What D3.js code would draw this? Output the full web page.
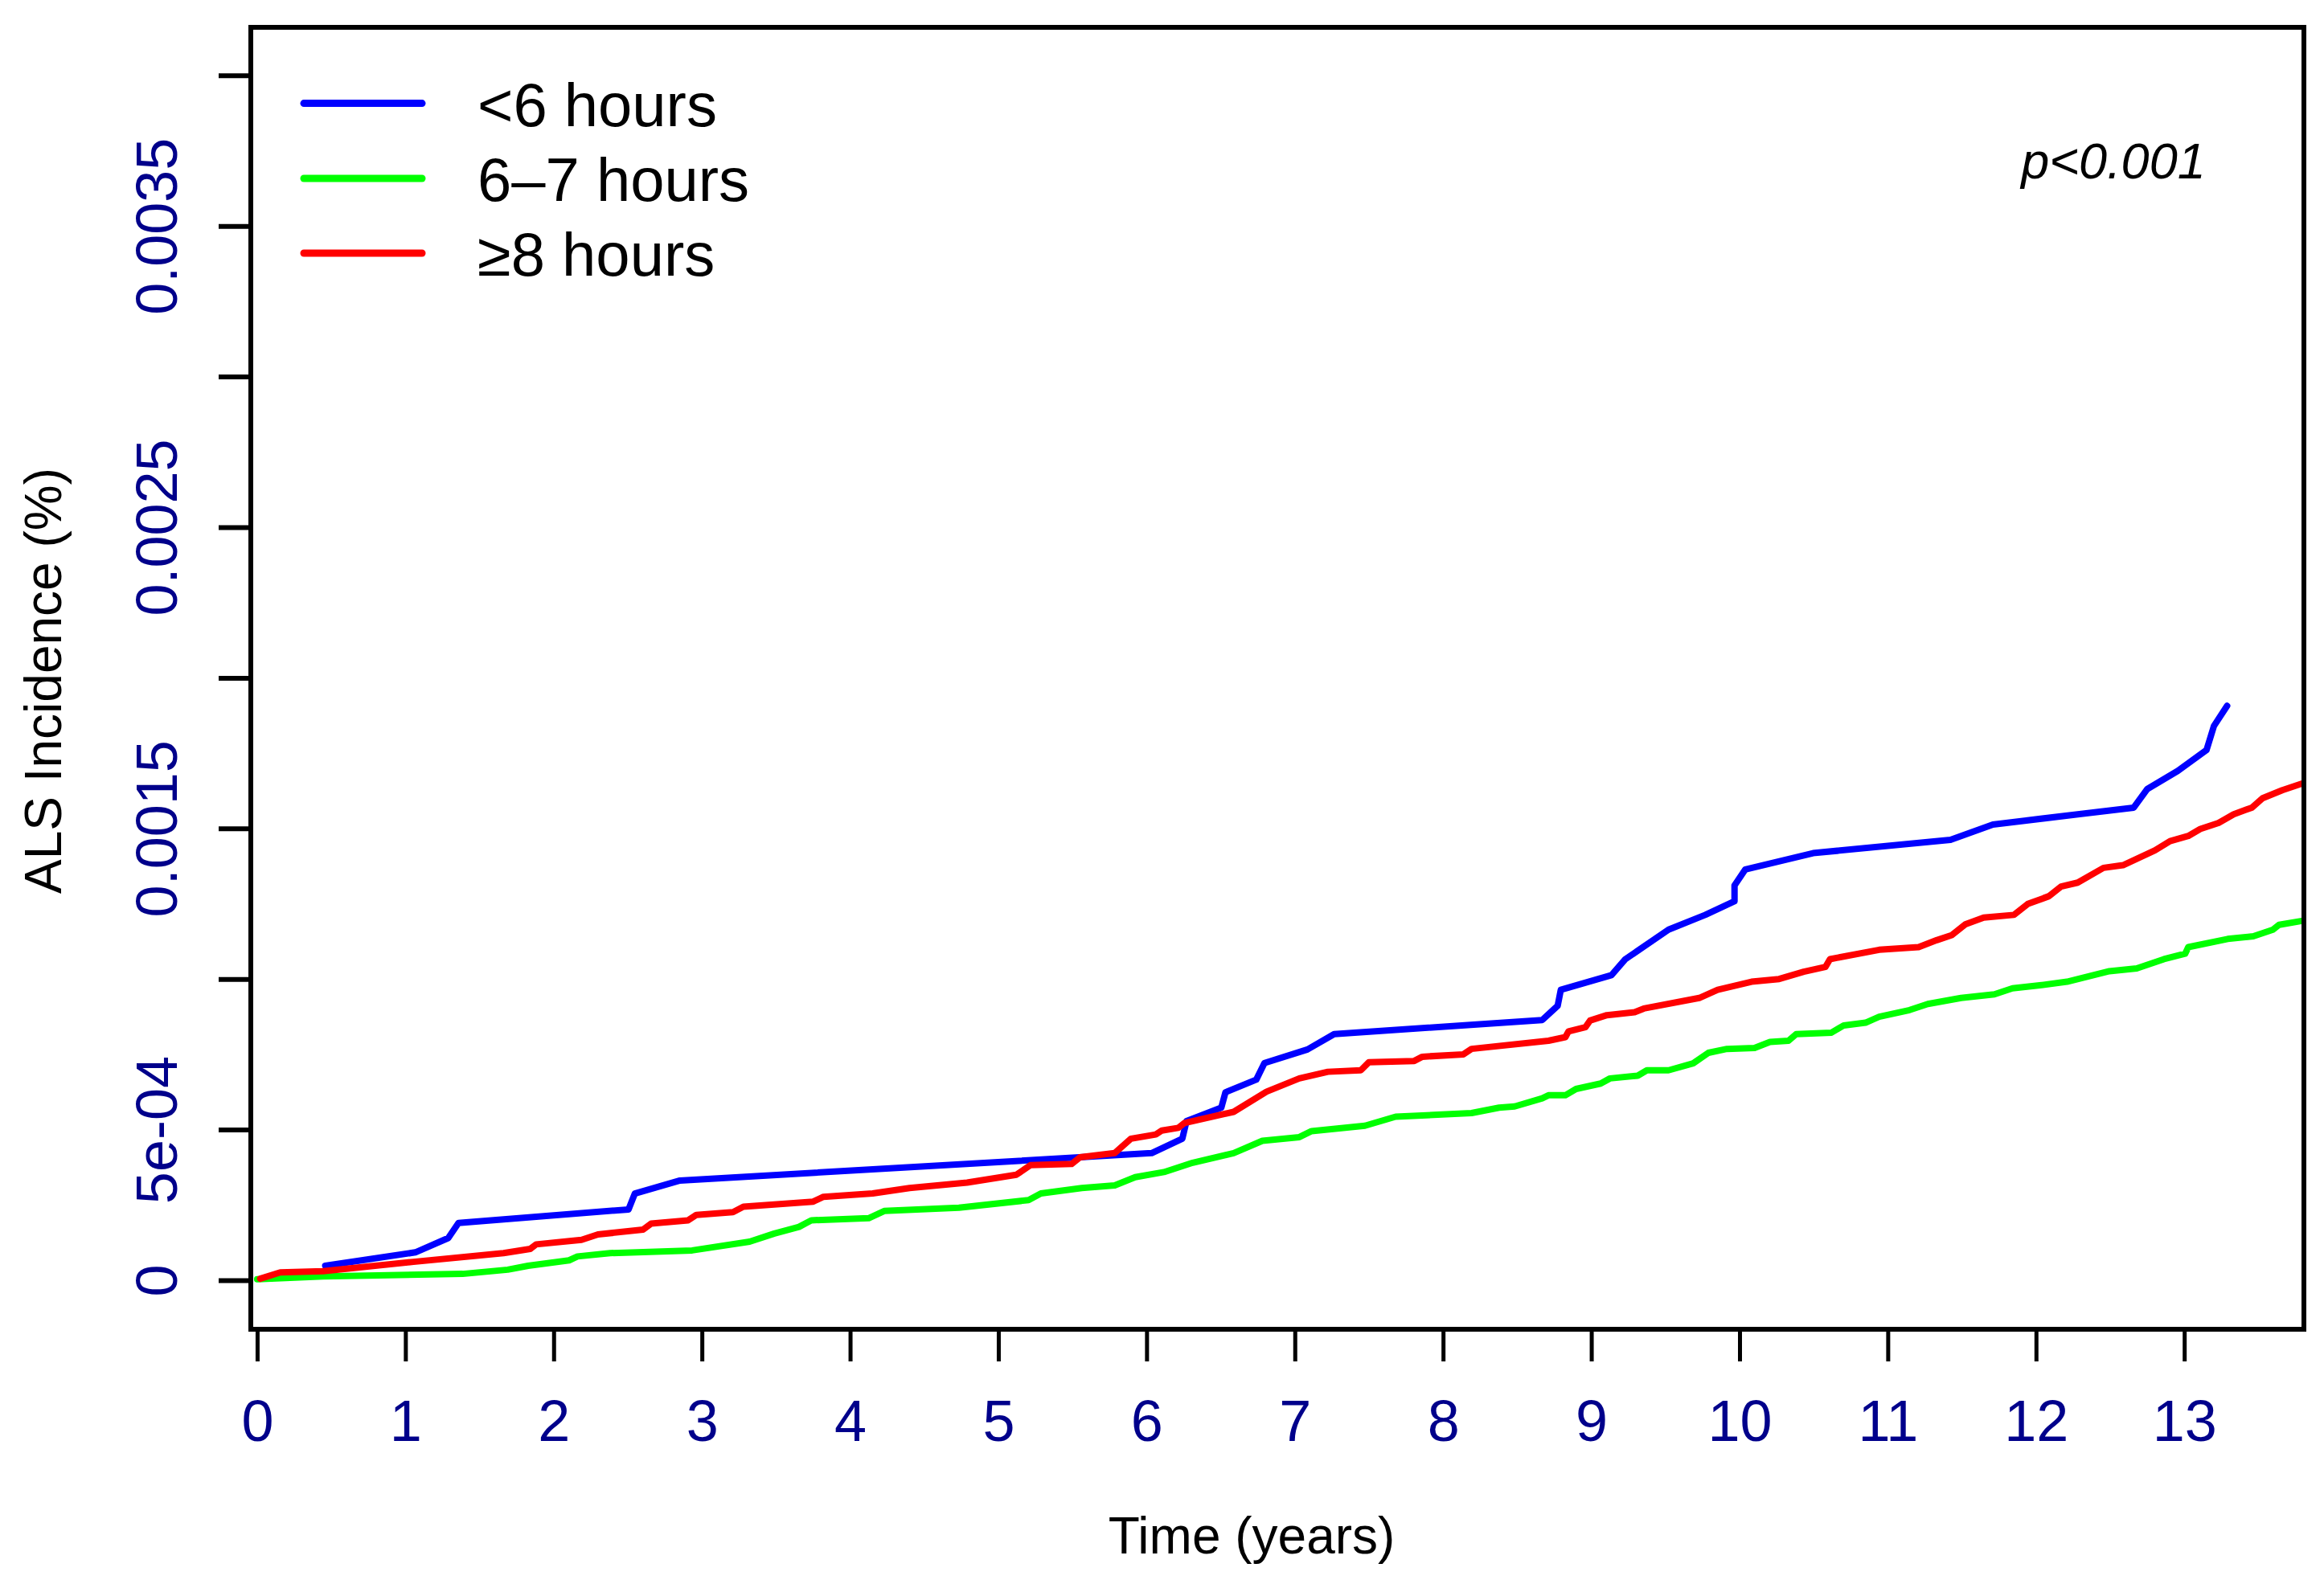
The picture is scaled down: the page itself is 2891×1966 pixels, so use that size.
<!DOCTYPE html>
<html>
<head>
<meta charset="utf-8">
<script src="https://d3js.org/d3.v7.min.js"></script>
<style>
    html, body { margin: 0; padding: 0; background: #fff; }
    svg { display: block; font-family: "Liberation Sans", Arial, sans-serif; }
</style>
</head>
<body>
<div id="chart"></div>
<script>
// Cumulative ALS incidence, [time in years, incidence]
const shortSleep = [
    [0.459, 0.000048], [1.067, 0.0000925], [1.289, 0.00014], [1.358, 0.00019],
    [2.505, 0.000235], [2.548, 0.000288], [2.852, 0.000331], [6.034, 0.000422],
    [6.241, 0.00047], [6.269, 0.000528], [6.504, 0.000573], [6.532, 0.000624],
    [6.74, 0.000666], [6.795, 0.000721], [7.085, 0.000766], [7.265, 0.000817],
    [8.669, 0.000864], [8.773, 0.000911], [8.794, 0.000964], [9.136, 0.001013],
    [9.23, 0.001066], [9.521, 0.001164], [9.769, 0.001213], [9.966, 0.001258],
    [9.966, 0.001311], [10.039, 0.001364], [10.496, 0.001418], [11.423, 0.001462],
    [11.709, 0.001513], [12.659, 0.001569], [12.751, 0.001631], [12.956, 0.001691],
    [13.15, 0.00176], [13.2, 0.00184], [13.289, 0.001907]
];

const midSleep = [
    [0, 0.000003], [0.445, 0.0000125], [1.386, 0.000021], [1.69, 0.000035],
    [1.828, 0.000048], [2.104, 0.000066], [2.161, 0.000079], [2.381, 0.00009],
    [2.934, 0.000099], [3.322, 0.000128], [3.489, 0.000155], [3.655, 0.000177],
    [3.738, 0.000199], [4.125, 0.000206], [4.23, 0.00023], [4.734, 0.000241],
    [5.204, 0.000266], [5.287, 0.000288], [5.563, 0.000306], [5.785, 0.000315],
    [5.923, 0.000342], [6.117, 0.000359], [6.311, 0.00039], [6.587, 0.000422],
    [6.781, 0.000463], [7.03, 0.000475], [7.113, 0.000495], [7.473, 0.000513],
    [7.68, 0.000543], [8.192, 0.000555], [8.378, 0.000573], [8.483, 0.000577],
    [8.669, 0.000604], [8.711, 0.000614], [8.825, 0.000614], [8.897, 0.000635],
    [9.063, 0.000653], [9.126, 0.00067], [9.313, 0.000679], [9.375, 0.000697],
    [9.521, 0.000697], [9.687, 0.00072], [9.79, 0.000755], [9.915, 0.000768],
    [10.101, 0.000771], [10.205, 0.000791], [10.33, 0.000795], [10.382, 0.000817],
    [10.62, 0.000822], [10.703, 0.000846], [10.85, 0.000855], [10.942, 0.000875],
    [11.147, 0.000897], [11.27, 0.000917], [11.494, 0.000937], [11.719, 0.000949],
    [11.841, 0.000969], [12.025, 0.000979], [12.209, 0.000991], [12.495, 0.001026],
    [12.679, 0.001035], [12.863, 0.001066], [13.006, 0.001084], [13.027, 0.001106],
    [13.293, 0.001133], [13.466, 0.001142], [13.599, 0.001164], [13.64, 0.00118],
    [13.794, 0.001193]
];

const longSleep = [
    [0.02, 0.000005], [0.155, 0.000026], [0.445, 0.00003], [1.054, 0.000061],
    [1.662, 0.00009], [1.842, 0.000104], [1.882, 0.000119], [2.188, 0.000134],
    [2.299, 0.000152], [2.603, 0.000168], [2.658, 0.000188], [2.907, 0.000199],
    [2.963, 0.000217], [3.21, 0.000226], [3.28, 0.000244], [3.751, 0.000261],
    [3.82, 0.000277], [4.152, 0.000288], [4.401, 0.000306], [4.789, 0.000324],
    [5.121, 0.00035], [5.217, 0.000382], [5.494, 0.000386], [5.55, 0.000408],
    [5.785, 0.000422], [5.895, 0.00047], [6.062, 0.000484], [6.103, 0.000497],
    [6.214, 0.000506], [6.255, 0.000522], [6.587, 0.000559], [6.809, 0.000626],
    [7.03, 0.00067], [7.223, 0.000692], [7.445, 0.000697], [7.5, 0.000724],
    [7.805, 0.000728], [7.86, 0.000742], [8.137, 0.00075], [8.192, 0.000768],
    [8.711, 0.000795], [8.825, 0.000807], [8.846, 0.000826], [8.96, 0.00084],
    [8.991, 0.000862], [9.105, 0.00088], [9.292, 0.00089], [9.354, 0.000902],
    [9.728, 0.000937], [9.852, 0.000964], [10.081, 0.000991], [10.267, 0.001],
    [10.433, 0.001024], [10.579, 0.00104], [10.61, 0.001066], [10.942, 0.001097],
    [11.208, 0.001106], [11.33, 0.001129], [11.433, 0.001146], [11.525, 0.001182],
    [11.647, 0.001204], [11.851, 0.001213], [11.944, 0.001249], [12.087, 0.001275],
    [12.169, 0.001307], [12.281, 0.00132], [12.455, 0.001369], [12.587, 0.001378],
    [12.802, 0.001427], [12.904, 0.001458], [13.027, 0.001475], [13.108, 0.001498],
    [13.231, 0.001518], [13.333, 0.001547], [13.456, 0.001569], [13.528, 0.0016],
    [13.661, 0.001627], [13.794, 0.001649]
];

const seriesNames = ['<6 hours', '6\u20137 hours', '\u22658 hours'];
const seriesColors = ['#0000ff', '#00ff00', '#ff0000'];

const xTicks = [0, 1, 2, 3, 4, 5, 6, 7, 8, 9, 10, 11, 12, 13];
const yTicks = [0, 0.0005, 0.001, 0.0015, 0.002, 0.0025, 0.003, 0.0035, 0.004];
const yTickLabels = ['0', '5e-04', '', '0.0015', '', '0.0025', '', '0.0035', ''];

const pValueText = 'p<0.001';
const xTitle = 'Time (years)';
const yTitle = 'ALS Incidence (%)';

const W = 2891, H = 1966;
const box = { left: 312, right: 2866, top: 34, bottom: 1654 };
const axisColor = '#00008b';

const svg = d3.select('#chart')
    .append('svg')
    .attr('width', W)
    .attr('height', H);

// Scales (R style: small padding around the data range)
const x = d3.scaleLinear()
    .domain([-0.043, 13.807])
    .range([box.left, box.right]);

const y = d3.scaleLinear()
    .domain([-0.0001628, 0.0041596])
    .range([box.bottom, box.top]);

// Clip so lines stop at the frame
svg.append('clipPath')
    .attr('id', 'plot-clip')
    .append('rect')
    .attr('x', box.left)
    .attr('y', box.top)
    .attr('width', box.right - box.left)
    .attr('height', box.bottom - box.top);

// Curves
const line = d3.line()
    .x(d => x(d[0]))
    .y(d => y(d[1]));

const allSeries = [shortSleep, midSleep, longSleep];

svg.append('g')
    .attr('clip-path', 'url(#plot-clip)')
    .selectAll('path')
    .data(allSeries)
    .enter()
    .append('path')
    .attr('d', line)
    .attr('fill', 'none')
    .attr('stroke', (d, i) => seriesColors[i])
    .attr('stroke-width', 8)
    .attr('stroke-linejoin', 'round')
    .attr('stroke-linecap', 'round');

// Frame
svg.append('rect')
    .attr('x', box.left)
    .attr('y', box.top)
    .attr('width', box.right - box.left)
    .attr('height', box.bottom - box.top)
    .attr('fill', 'none')
    .attr('stroke', '#000')
    .attr('stroke-width', 6);

// X axis
const xAxis = svg.append('g')
    .attr('transform', `translate(0,${box.bottom})`)
    .call(d3.axisBottom(x)
        .tickValues(xTicks)
        .tickSize(40)
        .tickFormat(d3.format('d'))
    );

xAxis.select('.domain').remove();
xAxis.selectAll('.tick line')
    .attr('stroke', '#000')
    .attr('stroke-width', 5);
xAxis.selectAll('.tick text')
    .attr('y', 139)
    .attr('dy', null)
    .attr('fill', axisColor)
    .style('font-size', '72px')
    .style('font-family', '"Liberation Sans", Arial, sans-serif');

// Y axis
const yAxis = svg.append('g')
    .attr('transform', `translate(${box.left},0)`)
    .call(d3.axisLeft(y)
        .tickValues(yTicks)
        .tickSize(40)
        .tickFormat((d, i) => yTickLabels[i])
    );

yAxis.select('.domain').remove();
yAxis.selectAll('.tick line')
    .attr('stroke', '#000')
    .attr('stroke-width', 6);
yAxis.selectAll('.tick text')
    .attr('x', 0)
    .attr('dy', null)
    .attr('text-anchor', 'middle')
    .attr('transform', 'translate(-92,0) rotate(-90)')
    .attr('fill', axisColor)
    .style('font-size', '72px')
    .style('font-family', '"Liberation Sans", Arial, sans-serif');

// Axis titles
svg.append('text')
    .attr('x', 1557)
    .attr('y', 1933)
    .attr('text-anchor', 'middle')
    .style('font-size', '64px')
    .text(xTitle);

svg.append('text')
    .attr('transform', 'translate(76,847) rotate(-90)')
    .attr('text-anchor', 'middle')
    .style('font-size', '64px')
    .text(yTitle);

// Legend
const legendY = [128.6, 222, 315];
const legend = svg.append('g');

legend.selectAll('line')
    .data(seriesNames)
    .enter()
    .append('line')
    .attr('x1', 378)
    .attr('x2', 525)
    .attr('y1', (d, i) => legendY[i])
    .attr('y2', (d, i) => legendY[i])
    .attr('stroke', (d, i) => seriesColors[i])
    .attr('stroke-width', 9)
    .attr('stroke-linecap', 'round');

legend.selectAll('text')
    .data(seriesNames)
    .enter()
    .append('text')
    .attr('x', 594)
    .attr('y', (d, i) => legendY[i] + 28)
    .style('font-size', '76px')
    .text(d => d);

// p-value
svg.append('text')
    .attr('x', 2629)
    .attr('y', 222)
    .attr('text-anchor', 'middle')
    .style('font-size', '63px')
    .style('font-style', 'italic')
    .text(pValueText);
</script>
</body>
</html>
